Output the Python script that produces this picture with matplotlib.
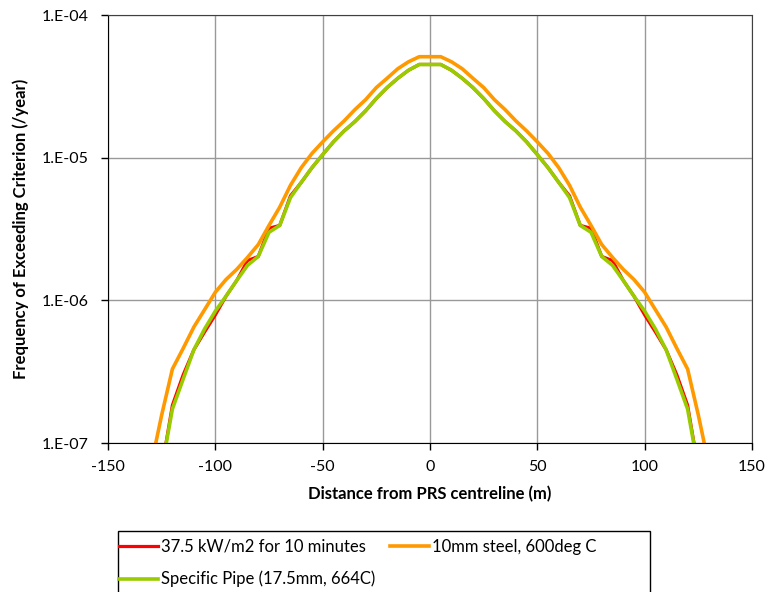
import numpy as np
import matplotlib.pyplot as plt
from matplotlib.patches import Rectangle

plt.rcParams['font.family'] = ['Lato', 'DejaVu Sans']
plt.rcParams['axes.unicode_minus'] = False

# distance from centreline (m), every 5 m
dist = np.arange(-130, 135, 5)

heat_flux = [2.5e-8, 6.6e-8, 1.84e-7, 3.0e-7, 4.5e-7, 6.0e-7, 7.9e-7, 1.07e-6, 1.38e-6,
             1.9e-6, 2.03e-6, 3.2e-6, 3.35e-6, 5.4e-6, 6.7e-6, 8.5e-6, 1.05e-5, 1.29e-5,
             1.54e-5, 1.79e-5, 2.13e-5, 2.6e-5, 3.1e-5, 3.6e-5, 4.1e-5, 4.5e-5,
             4.5e-5,
             4.5e-5, 4.1e-5, 3.6e-5, 3.1e-5, 2.6e-5, 2.13e-5, 1.79e-5, 1.54e-5, 1.29e-5,
             1.05e-5, 8.5e-6, 6.7e-6, 5.4e-6, 3.35e-6, 3.2e-6, 2.03e-6, 1.9e-6, 1.38e-6,
             1.07e-6, 7.9e-7, 6.0e-7, 4.5e-7, 3.0e-7, 1.84e-7, 6.6e-8, 2.5e-8]

steel_600 = [6.9e-8, 1.57e-7, 3.3e-7, 4.6e-7, 6.5e-7, 8.6e-7, 1.14e-6, 1.4e-6, 1.65e-6,
             2.0e-6, 2.46e-6, 3.35e-6, 4.5e-6, 6.4e-6, 8.5e-6, 1.07e-5, 1.29e-5, 1.54e-5,
             1.81e-5, 2.17e-5, 2.55e-5, 3.1e-5, 3.6e-5, 4.2e-5, 4.7e-5, 5.1e-5,
             5.1e-5,
             5.1e-5, 4.7e-5, 4.2e-5, 3.6e-5, 3.1e-5, 2.55e-5, 2.17e-5, 1.81e-5, 1.54e-5,
             1.29e-5, 1.07e-5, 8.5e-6, 6.4e-6, 4.5e-6, 3.35e-6, 2.46e-6, 2.0e-6, 1.65e-6,
             1.4e-6, 1.14e-6, 8.6e-7, 6.5e-7, 4.6e-7, 3.3e-7, 1.57e-7, 6.9e-8]

pipe = [2.5e-8, 6.6e-8, 1.73e-7, 2.8e-7, 4.5e-7, 6.3e-7, 8.4e-7, 1.07e-6, 1.38e-6,
        1.76e-6, 2.03e-6, 3.0e-6, 3.35e-6, 5.25e-6, 6.7e-6, 8.5e-6, 1.05e-5, 1.29e-5,
        1.54e-5, 1.79e-5, 2.13e-5, 2.6e-5, 3.1e-5, 3.6e-5, 4.1e-5, 4.5e-5,
        4.5e-5,
        4.5e-5, 4.1e-5, 3.6e-5, 3.1e-5, 2.6e-5, 2.13e-5, 1.79e-5, 1.54e-5, 1.29e-5,
        1.05e-5, 8.5e-6, 6.7e-6, 5.25e-6, 3.35e-6, 3.0e-6, 2.03e-6, 1.76e-6, 1.38e-6,
        1.07e-6, 8.4e-7, 6.3e-7, 4.5e-7, 2.8e-7, 1.73e-7, 6.6e-8, 2.5e-8]

labels = ['37.5 kW/m2 for 10 minutes', '10mm steel, 600deg C', 'Specific Pipe (17.5mm, 664C)']
y_ticks = [1e-7, 1e-6, 1e-5, 1e-4]
y_tick_labels = ['1.E-07', '1.E-06', '1.E-05', '1.E-04']

fig = plt.figure(figsize=(7.66, 5.92), dpi=100)
ax = fig.add_axes([108/766, 1-443/592, 644/766, 428/592])

l1, = ax.plot(dist, heat_flux, color='#FF0000', lw=2.3, label=labels[0])
l2, = ax.plot(dist, steel_600, color='#FF9900', lw=2.6, label=labels[1])
l3, = ax.plot(dist, pipe, color='#99CC00', lw=2.6, label=labels[2])

ax.set_yscale('log')
ax.set_xlim(-150, 150)
ax.set_ylim(1e-7, 1e-4)
ax.set_xticks(np.arange(-150, 151, 50))
ax.set_yticks(y_ticks)
ax.set_yticklabels(y_tick_labels)
ax.yaxis.set_minor_locator(plt.NullLocator())
ax.grid(True, color='#999999', lw=1)
ax.set_axisbelow(True)
ax.tick_params(direction='out', length=5, width=1, labelsize=11.5, colors='black')
ax.tick_params(axis='y', pad=9)
ax.tick_params(axis='x', pad=7)
for s in ['left', 'bottom']:
    ax.spines[s].set_color('black')
for s in ['top', 'right']:
    ax.spines[s].set_color('#404040')

ax.set_xlabel('Distance from PRS centreline (m)', fontsize=12, fontweight='bold', labelpad=9)
ax.set_ylabel('Frequency of Exceeding Criterion (/year)', fontsize=12, fontweight='bold', labelpad=9)

fig.legend([l1, l3, l2], [labels[0], labels[2], labels[1]], ncol=2, frameon=False,
           loc='upper left', bbox_to_anchor=(119/766, 1-539/592), fontsize=12,
           handlelength=2.35, handletextpad=0.15, columnspacing=0.9, labelspacing=0.95,
           borderaxespad=0, borderpad=0)
fig.patches.append(Rectangle((118/766, -0.02), (650-118)/766, 0.02 + (592-531)/592,
                             transform=fig.transFigure, fill=False, edgecolor='black', lw=1))

fig.savefig('out.png', dpi=100)
